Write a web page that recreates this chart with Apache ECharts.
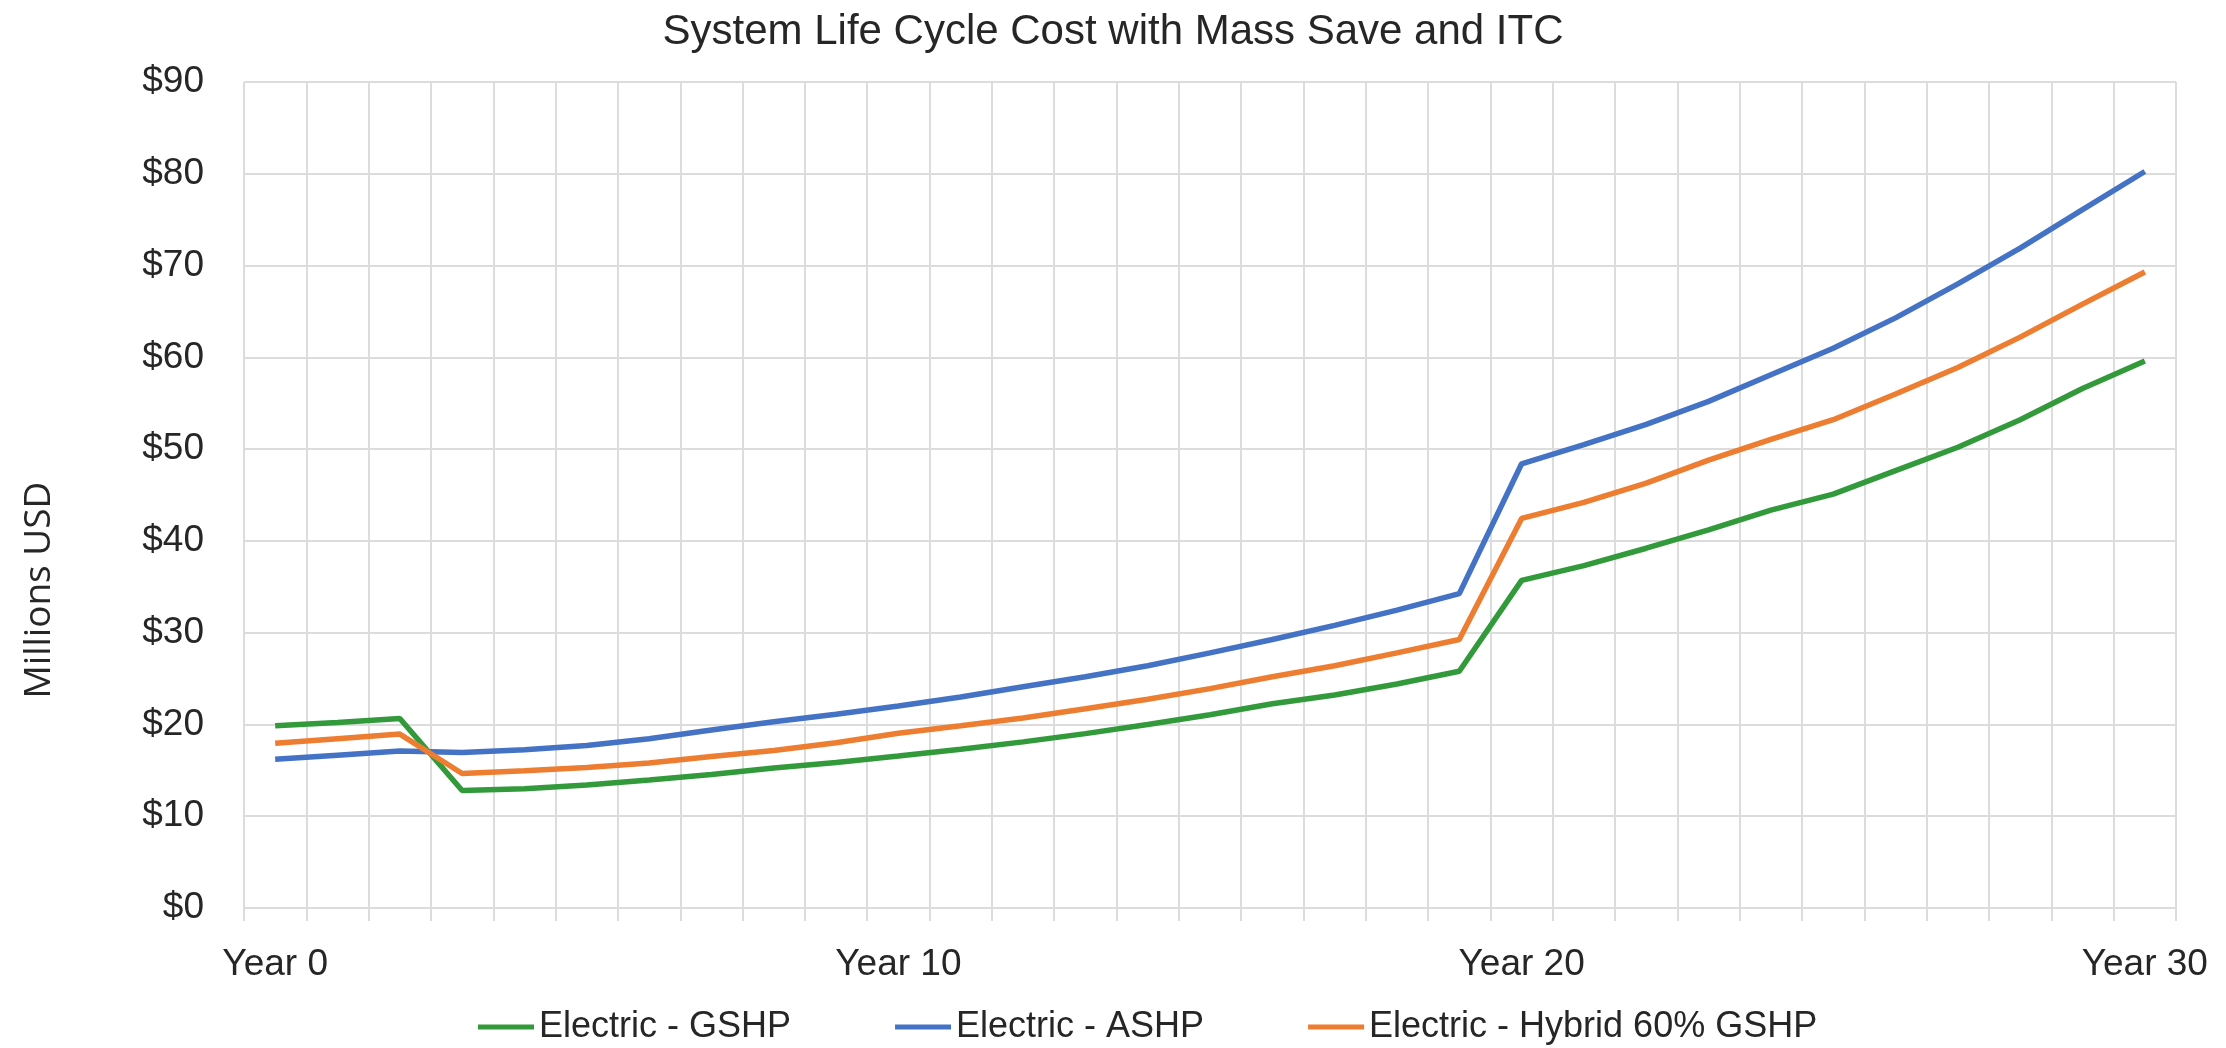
<!DOCTYPE html>
<html>
<head>
<meta charset="utf-8">
<script src="https://cdn.jsdelivr.net/npm/echarts@6/dist/echarts.min.js"></script>
<style>
html,body{margin:0;padding:0;background:#fff;}
#chart{width:2226px;height:1048px;}
</style>
</head>
<body>
<div id="chart"></div>
<script>
const titleText = 'System Life Cycle Cost with Mass Save and ITC';
const yAxisName = 'Millions USD';
const seriesNames = ['Electric - GSHP', 'Electric - ASHP', 'Electric - Hybrid 60% GSHP'];
const years = Array.from({length: 31}, (_, i) => 'Year ' + i);
const gshp = [19.85, 20.2, 20.65, 12.8, 13.0, 13.4, 13.95, 14.55, 15.25, 15.85, 16.55, 17.3, 18.1, 19.0, 20.0, 21.05, 22.25, 23.2, 24.4, 25.8, 35.7, 37.3, 39.2, 41.2, 43.35, 45.1, 47.65, 50.2, 53.2, 56.6, 59.6];
const ashp = [16.2, 16.65, 17.1, 16.95, 17.25, 17.7, 18.45, 19.4, 20.3, 21.1, 22.0, 23.0, 24.1, 25.2, 26.4, 27.8, 29.25, 30.8, 32.45, 34.25, 48.4, 50.5, 52.7, 55.2, 58.1, 61.0, 64.3, 68.0, 71.9, 76.1, 80.25];
const hybrid = [17.95, 18.45, 18.95, 14.65, 14.95, 15.3, 15.8, 16.5, 17.15, 18.0, 19.05, 19.85, 20.7, 21.7, 22.75, 23.9, 25.2, 26.4, 27.8, 29.25, 42.45, 44.2, 46.3, 48.8, 51.05, 53.2, 56.0, 58.9, 62.2, 65.8, 69.3];
const yMin = 0, yMax = 90, yStep = 10;

const colors = ['#339A3B', '#4472C4', '#ED7D31'];
const gridColor = '#DCDCDC';
const font = '"Liberation Sans", Arial, sans-serif';

const chart = echarts.init(document.getElementById('chart'), null, {renderer: 'canvas'});
const data = [gshp, ashp, hybrid];
chart.setOption({
  animation: false,
  backgroundColor: '#ffffff',
  title: {
    text: titleText,
    left: 'center',
    top: 6,
    textStyle: {fontFamily: font, fontSize: 42, fontWeight: 'normal', color: '#262626'}
  },
  legend: {
    left: 473,
    top: 1004,
    icon: 'rect',
    itemWidth: 56,
    itemHeight: 5,
    itemGap: 104,
    textStyle: {fontFamily: font, fontSize: 36, color: '#262626'},
    data: seriesNames
  },
  graphic: [{
    type: 'text',
    x: 39,
    y: 590,
    rotation: Math.PI / 2,
    style: {
      text: yAxisName,
      fontFamily: '"Open Sans", sans-serif',
      fontSize: 37,
      fill: '#262626',
      align: 'center',
      verticalAlign: 'middle'
    }
  }],
  grid: {left: 244, right: 50, top: 82, bottom: 140, containLabel: false},
  xAxis: {
    type: 'category',
    data: years,
    boundaryGap: true,
    axisLine: {show: true, lineStyle: {color: gridColor, width: 2}},
    axisTick: {show: true, interval: 0, length: 13, lineStyle: {color: gridColor, width: 2}},
    axisLabel: {interval: 9, margin: 38, fontFamily: font, fontSize: 37, color: '#262626'},
    splitLine: {show: true, interval: 0, lineStyle: {color: gridColor, width: 2}}
  },
  yAxis: {
    type: 'value',
    min: yMin, max: yMax, interval: yStep,
    axisLine: {show: false},
    axisTick: {show: false},
    axisLabel: {margin: 40, fontFamily: font, fontSize: 37, color: '#262626', formatter: v => '$' + v},
    splitLine: {show: true, lineStyle: {color: gridColor, width: 2}}
  },
  series: seriesNames.map((n, i) => ({
    name: n,
    type: 'line',
    data: data[i],
    symbol: 'none',
    smooth: false,
    lineStyle: {color: colors[i], width: 5.5},
    itemStyle: {color: colors[i]}
  }))
});
</script>
</body>
</html>
